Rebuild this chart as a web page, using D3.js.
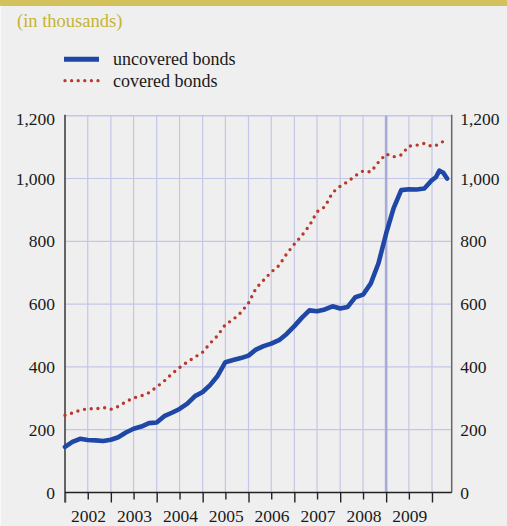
<!DOCTYPE html>
<html><head><meta charset="utf-8">
<script src="https://cdn.jsdelivr.net/npm/d3@7"></script>
<style>
body{margin:0;background:#efefef}
svg{display:block}
text{font-family:"Liberation Serif","Times New Roman",serif;}
</style>
</head><body><svg id="c" width="507" height="526"></svg>
<script>
// ---- data (in thousands) ----
const dates = [
 "2002-01","2002-03","2002-05","2002-07","2002-09","2002-11",
 "2003-01","2003-03","2003-05","2003-07","2003-09","2003-11",
 "2004-01","2004-03","2004-05","2004-07","2004-09","2004-11",
 "2005-01","2005-03","2005-05","2005-07","2005-09","2005-11",
 "2006-01","2006-03","2006-05","2006-07","2006-09","2006-11",
 "2007-01","2007-03","2007-05","2007-07","2007-09","2007-11",
 "2008-01","2008-03","2008-05","2008-07","2008-09","2008-11",
 "2009-01","2009-03","2009-05","2009-07","2009-09","2009-11",
 "2010-01","2010-02","2010-03","2010-04","2010-05"];
const uncovered = [
 145,161,171,167,166,164,
 168,176,191,203,210,221,
 223,243,254,266,283,307,
 320,342,372,415,422,428,
 436,455,466,474,485,505,
 530,556,580,577,583,593,
 586,591,622,630,666,730,
 825,905,963,966,965,968,
 995,1004,1025,1018,1000];
const covered = [
 246,253,262,267,266,271,
 265,274,289,301,308,318,
 336,355,378,398,416,431,
 447,475,500,535,551,573,
 603,650,676,702,723,760,
 791,818,850,894,910,955,
 975,990,1009,1024,1021,1052,
 1078,1069,1075,1103,1106,1112,
 1102,1105,1112,1118,1122];
const yTicks = [0,200,400,600,800,1000,1200];
const years = ["2002","2003","2004","2005","2006","2007","2008","2009"];
const highlightDate = "2009-01";
const seriesNames = ["uncovered bonds","covered bonds"];
const title = "(in thousands)";

(function(){
const parse = d3.timeParse("%Y-%m");
const svg = d3.select("#c");
const W = 507, H = 526;
const pL = 65, pR = 451.7, pT = 115.7, pB = 492.5;

svg.append("rect").attr("width",W).attr("height",H).attr("fill","#efefef");
svg.append("rect").attr("width",W).attr("height",6).attr("fill","#d3c25c");
svg.append("rect").attr("x",0).attr("y",6).attr("width",1).attr("height",H-6).attr("fill","#f8f8f8");

svg.append("text").attr("x",17).attr("y",27).attr("font-size","18.5px")
  .attr("fill","#c6b432").text(title);

const x = d3.scaleTime()
  .domain([new Date(2002,0,1), new Date(2010,5,7)])
  .range([pL, pR]);
const y = d3.scaleLinear().domain([0,1200]).range([pB, pT]);

const halfYears = d3.timeMonth.every(6).range(new Date(2002,0,1), new Date(2010,1,1));
const gridColor = "#c4c6e7";

svg.append("g").selectAll("line").data(yTicks.filter(d=>d>0)).join("line")
  .attr("x1",pL).attr("x2",pR)
  .attr("y1",d=>y(d)).attr("y2",d=>y(d))
  .attr("stroke",gridColor).attr("stroke-width",d=>d===1200?1.6:1.2);

const hl = parse(highlightDate).getTime();
svg.append("g").selectAll("line").data(halfYears.filter(d=>d>new Date(2002,0,1))).join("line")
  .attr("x1",d=>x(d)).attr("x2",d=>x(d))
  .attr("y1",pT).attr("y2",pB)
  .attr("stroke",d=>d.getTime()===hl?"#a7abda":gridColor)
  .attr("stroke-width",d=>d.getTime()===hl?2.6:1.2);

const la = svg.append("g").attr("transform",`translate(${pL},0)`)
  .call(d3.axisLeft(y).tickValues(yTicks).tickSize(0).tickPadding(10).tickFormat(d3.format(",")));
la.select(".domain").remove();
la.selectAll("text").attr("font-size","17.5px").attr("fill","#1a1a1a")
  .attr("dy",d=>d===1200?"0.52em":"0.32em");

const ra = svg.append("g").attr("transform",`translate(${pR},0)`)
  .call(d3.axisRight(y).tickValues(yTicks).tickSize(0).tickPadding(8.5).tickFormat(d3.format(",")));
ra.select(".domain").remove();
ra.selectAll("text").attr("font-size","17.5px").attr("fill","#1a1a1a")
  .attr("dy",d=>d===1200?"0.52em":"0.32em");

const ba = svg.append("g").attr("transform",`translate(0,${pB})`)
  .call(d3.axisBottom(x).tickValues(halfYears).tickSize(9.5).tickFormat(""));
ba.select(".domain").remove();
ba.selectAll(".tick line")
  .attr("y2",d=>d.getMonth()===0?10:7)
  .attr("stroke","#222").attr("stroke-width",1.4);

const ya = svg.append("g").attr("transform",`translate(0,${pB})`)
  .call(d3.axisBottom(x).tickValues(years.map(s=>new Date(+s,6,4))).tickSize(0).tickFormat(d3.timeFormat("%Y")));
ya.select(".domain").remove();
ya.selectAll("text").attr("font-size","17.5px").attr("fill","#1a1a1a")
  .attr("y",29.5).attr("dy",null);

svg.append("line").attr("x1",pL).attr("x2",pL).attr("y1",pT-1).attr("y2",pB+10)
  .attr("stroke","#555").attr("stroke-width",1.8);
svg.append("line").attr("x1",pR).attr("x2",pR).attr("y1",pT-1).attr("y2",pB)
  .attr("stroke","#666").attr("stroke-width",1.5);
svg.append("line").attr("x1",pL).attr("x2",pR).attr("y1",pB).attr("y2",pB)
  .attr("stroke","#222").attr("stroke-width",1.5);

const pts = (vals)=>dates.map((d,i)=>({d:parse(d),v:vals[i]}));
const line = d3.line().x(p=>x(p.d)).y(p=>y(p.v));
const red = "#b8382c", blue = "#1e47a6";

svg.append("path").datum(pts(covered)).attr("d",line)
  .attr("fill","none").attr("stroke",red).attr("stroke-width",3.4)
  .attr("stroke-linecap","round").attr("stroke-dasharray","0 6.8");
svg.append("path").datum(pts(uncovered)).attr("d",line)
  .attr("fill","none").attr("stroke",blue).attr("stroke-width",4.6)
  .attr("stroke-linejoin","round").attr("stroke-linecap","round");

const lg = svg.append("g");
lg.append("line").attr("x1",64).attr("x2",99).attr("y1",59.3).attr("y2",59.3)
  .attr("stroke",blue).attr("stroke-width",5);
lg.append("line").attr("x1",65).attr("x2",99).attr("y1",80.7).attr("y2",80.7)
  .attr("stroke",red).attr("stroke-width",3.3).attr("stroke-linecap","round")
  .attr("stroke-dasharray","0 6.6");
lg.selectAll("text").data(seriesNames).join("text")
  .attr("x",113).attr("y",(d,i)=>65+i*22).attr("font-size","18px").attr("fill","#1a1a1a")
  .text(d=>d);
})();
</script>
</body></html>
